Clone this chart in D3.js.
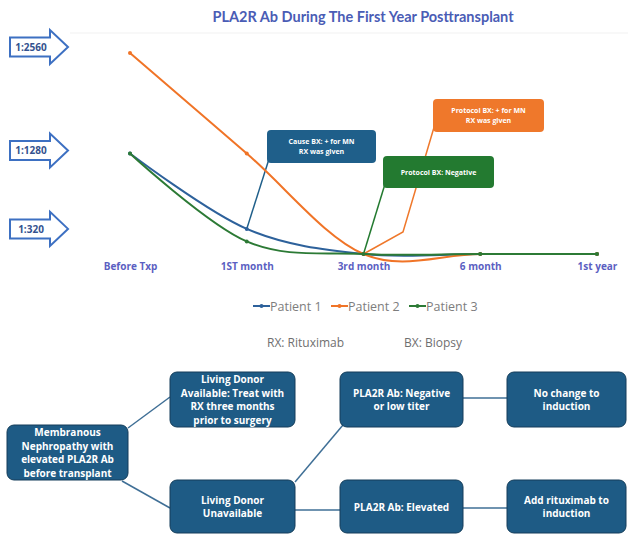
<!DOCTYPE html>
<html>
<head>
<meta charset="utf-8">
<script src="https://cdn.jsdelivr.net/npm/d3@7"></script>
<style>
  body { margin: 0; background: #fff; }
  svg { display: block; font-family: Lato, "Open Sans", sans-serif; }
</style>
</head>
<body>
<div id="chart"></div>
<script>
// data
const categories = ["Before Txp", "1ST month", "3rd month", "6 month", "1st year"];
const patient1 = [1280, 320, 0, 0, 0];
const patient2 = [2560, 1280, 0, 0, 0];
const patient3 = [1280, 160, 0, 0, 0];
const seriesNames = ["Patient 1", "Patient 2", "Patient 3"];
const titerMarks = [2560, 1280, 320];
const titerLabels = ["1:2560", "1:1280", "1:320"];
const notes = ["RX: Rituximab", "BX: Biopsy"];

const W = 628, H = 534;
const svg = d3.select("#chart").append("svg")
  .attr("width", W).attr("height", H);

const colors = ["#2d619b", "#f07427", "#2c7a35"];

// scales
const x = d3.scalePoint().domain(categories).range([130, 597]);
const y = d3.scaleLinear().domain([0, 2560]).range([254, 53]);

// title
svg.append("text")
  .attr("x", 363).attr("y", 22)
  .attr("text-anchor", "middle")
  .attr("font-size", 14.5).attr("font-weight", "bold")
  .attr("fill", "#4a5cb5")
  .text("PLA2R Ab During The First Year Posttransplant");

// faint gridline
svg.append("line")
  .attr("x1", 70).attr("x2", 628).attr("y1", 33).attr("y2", 33)
  .attr("stroke", "#f1f1f1");

// titer arrows on the left
titerMarks.forEach((v, i) => {
  const c = y(v) - (i === 0 ? 6 : i === 1 ? 3 : 0);
  svg.append("path")
    .attr("d", `M10,${c - 9.5}L50,${c - 9.5}L50,${c - 17}L68,${c}L50,${c + 17}L50,${c + 9.5}L10,${c + 9.5}Z`)
    .attr("fill", "#fff").attr("stroke", "#3d70c2").attr("stroke-width", 2);
  svg.append("text")
    .attr("x", 31).attr("y", c + 3.8)
    .attr("text-anchor", "middle")
    .attr("font-size", 10).attr("font-weight", "bold")
    .attr("font-family", "'Open Sans', sans-serif")
    .attr("fill", "#34528f")
    .text(titerLabels[i]);
});

// x axis labels
const xAxis = d3.axisBottom(x).tickSize(0).tickPadding(0);
const gx = svg.append("g").attr("transform", "translate(0,263)").call(xAxis);
gx.select(".domain").remove();
gx.selectAll("text")
  .attr("font-size", 10).attr("font-weight", "bold")
  .attr("fill", "#5b5fc2")
  .attr("font-family", "'Open Sans', sans-serif");

// callout leaders and boxes (drawn beneath the lines)
const callouts = [
  { cat: 1, series: patient1, color: "#1f5f8a", box: [267, 130, 109, 33],
    via: null, lines: ["Cause BX: + for MN", "RX was given"] },
  { cat: 2, series: patient3, color: "#237a30", box: [383, 156, 111, 32],
    via: null, lines: ["Protocol BX: Negative"] },
  { cat: 2, series: patient2, color: "#ef782b", box: [433, 99, 111, 33],
    via: [403, 232], lines: ["Protocol BX: + for MN", "RX was given"] }
];

callouts.forEach((c, i) => {
  const px = x(categories[c.cat]), py = y(c.series[c.cat]);
  const pts = [[px, py]];
  if (c.via) pts.push(c.via);
  const [bx, by, bw, bh] = c.box;
  pts.push(i === 2 ? [bx + 2, by + bh - 8] : [bx + 2, by + bh - 4]);
  svg.append("path")
    .attr("d", d3.line()(pts))
    .attr("fill", "none").attr("stroke", c.color).attr("stroke-width", 1.5);
});

// series lines
const line = d3.line()
  .x((d, i) => x(categories[i]))
  .y(d => y(d))
  .curve(d3.curveCardinal.tension(0));

const allSeries = [patient1, patient2, patient3];
allSeries.forEach((s, i) => {
  svg.append("path")
    .datum(s)
    .attr("d", line)
    .attr("fill", "none").attr("stroke", colors[i]).attr("stroke-width", 2);
  svg.selectAll(null)
    .data(s)
    .enter().append("circle")
    .attr("cx", (d, j) => x(categories[j]))
    .attr("cy", d => y(d))
    .attr("r", 2)
    .attr("fill", colors[i]);
});

// callout boxes on top
callouts.forEach(c => {
  const [bx, by, bw, bh] = c.box;
  svg.append("rect")
    .attr("x", bx).attr("y", by).attr("width", bw).attr("height", bh)
    .attr("rx", 4).attr("fill", c.color);
  const n = c.lines.length;
  c.lines.forEach((t, k) => {
    svg.append("text")
      .attr("x", bx + bw / 2)
      .attr("y", by + bh / 2 + 2.5 + (k - (n - 1) / 2) * 10.5)
      .attr("text-anchor", "middle")
      .attr("font-size", 7).attr("font-weight", "bold")
      .attr("font-family", "'Open Sans', sans-serif")
      .attr("fill", "#fff")
      .text(t);
  });
});

// legend
const legendX = [253, 331, 409];
seriesNames.forEach((name, i) => {
  const g = svg.append("g").attr("transform", `translate(${legendX[i]},306)`);
  g.append("line").attr("x1", 0).attr("x2", 17).attr("y1", 0).attr("y2", 0)
    .attr("stroke", colors[i]).attr("stroke-width", 2);
  g.append("circle").attr("cx", 8.5).attr("cy", 0).attr("r", 2).attr("fill", colors[i]);
  g.append("text").attr("x", 17).attr("y", 4.5)
    .attr("font-size", 12.5).attr("fill", "#7d7d7d")
    .attr("font-family", "'Open Sans', sans-serif")
    .text(name);
});

// notes
const noteX = [267, 404];
notes.forEach((t, i) => {
  svg.append("text").attr("x", noteX[i]).attr("y", 347)
    .attr("font-size", 12).attr("fill", "#6f6f6f")
    .attr("font-family", "'Open Sans', sans-serif")
    .text(t);
});

// flowchart
const boxes = [
  { id: "mn", x: 7, y: 425, w: 121, h: 55,
    lines: ["Membranous", "Nephropathy with", "elevated PLA2R Ab", "before transplant"] },
  { id: "ld", x: 170, y: 372, w: 125, h: 55,
    lines: ["Living Donor", "Available: Treat with", "RX three months", "prior to surgery"] },
  { id: "nd", x: 170, y: 480, w: 125, h: 53,
    lines: ["Living Donor", "Unavailable"] },
  { id: "neg", x: 340, y: 372, w: 123, h: 55,
    lines: ["PLA2R Ab: Negative", "or low titer"] },
  { id: "nc", x: 507, y: 372, w: 119, h: 55,
    lines: ["No change to", "induction"] },
  { id: "el", x: 340, y: 480, w: 123, h: 53,
    lines: ["PLA2R Ab: Elevated"] },
  { id: "add", x: 507, y: 480, w: 119, h: 53,
    lines: ["Add rituximab to", "induction"] }
];

const links = [
  [[128, 428], [170, 397]],
  [[122, 481], [170, 508]],
  [[295, 482], [343, 425]],
  [[295, 510], [340, 510]],
  [[463, 398], [507, 398]],
  [[463, 508], [507, 508]]
];
links.forEach(l => {
  svg.append("path").attr("d", d3.line()(l))
    .attr("stroke", "#3f6f96").attr("stroke-width", 1.5).attr("fill", "none");
});

boxes.forEach(b => {
  svg.append("rect")
    .attr("x", b.x).attr("y", b.y).attr("width", b.w).attr("height", b.h)
    .attr("rx", 7).attr("fill", "#1e5b85")
    .attr("stroke", "#143d5a").attr("stroke-width", 1);
  const n = b.lines.length;
  b.lines.forEach((t, k) => {
    svg.append("text")
      .attr("x", b.x + b.w / 2)
      .attr("y", b.y + b.h / 2 + 4 + (k - (n - 1) / 2) * 13.5)
      .attr("text-anchor", "middle")
      .attr("font-size", 10).attr("font-weight", "bold")
      .attr("font-family", "'Open Sans', sans-serif")
      .attr("fill", "#fff")
      .text(t);
  });
});
</script>
</body>
</html>
